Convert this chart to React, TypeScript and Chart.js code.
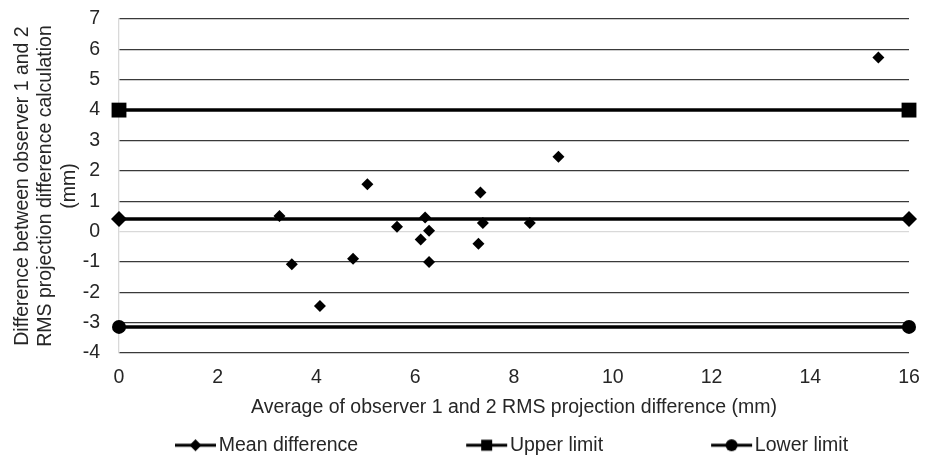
import React, { useEffect, useRef } from 'react';
import { Chart, registerables } from 'chart.js';

Chart.register(...registerables);

// Bland-Altman data
const avgValues = [3.25, 3.5, 4.07, 4.74, 5.03, 5.63, 6.2, 6.11, 6.28, 6.28, 7.32, 7.37, 7.28, 8.32, 8.9, 15.38];
const diffValues = [0.51, -1.08, -2.45, -0.9, 1.56, 0.16, 0.46, -0.26, 0.03, -1.0, 1.29, 0.28, -0.4, 0.28, 2.46, 5.73];
const lineX = [0, 16];
const meanDiff = [0.415, 0.415];
const upperLimit = [4.0, 4.0];
const lowerLimit = [-3.14, -3.14];
const xTicks = [0, 2, 4, 6, 8, 10, 12, 14, 16];
const yTicks = [-4, -3, -2, -1, 0, 1, 2, 3, 4, 5, 6, 7];
const legendLabels = ['Mean difference', 'Upper limit', 'Lower limit'];
const xTitle = 'Average of observer 1 and 2 RMS projection difference (mm)';
const yTitle = ['Difference between observer 1 and 2', 'RMS projection difference calculation', '(mm)'];

const FONT = "'Liberation Sans', Arial, sans-serif";
const FS = 19.5;
const TEXT = '#262626';

function makeLegendGlyph(style: string, boxW: number): HTMLCanvasElement {
  const w = boxW + 16;
  const h = 16;
  const c = document.createElement('canvas');
  c.width = w;
  c.height = h;
  const ctx = c.getContext('2d')!;
  const x2 = w - 1;
  const x1 = x2 - 41;
  const cy = h / 2;
  ctx.strokeStyle = '#000';
  ctx.fillStyle = '#000';
  ctx.lineWidth = 3.2;
  ctx.beginPath();
  ctx.moveTo(x1, cy);
  ctx.lineTo(x2, cy);
  ctx.stroke();
  const cx = (x1 + x2) / 2;
  ctx.beginPath();
  if (style === 'rectRot') {
    const r = 6;
    ctx.moveTo(cx, cy - r);
    ctx.lineTo(cx + r, cy);
    ctx.lineTo(cx, cy + r);
    ctx.lineTo(cx - r, cy);
    ctx.closePath();
  } else if (style === 'rect') {
    ctx.rect(cx - 5.5, cy - 5.5, 11, 11);
  } else {
    ctx.arc(cx, cy, 6, 0, Math.PI * 2);
  }
  ctx.fill();
  return c;
}

export default function App() {
  const ref = useRef<HTMLCanvasElement>(null);

  useEffect(() => {
    document.body.style.margin = '0';
    const canvas = ref.current!;
    const boxW = 132;
    const glyphs = [makeLegendGlyph('rectRot', boxW), makeLegendGlyph('rect', boxW), makeLegendGlyph('circle', boxW)];

    const chart = new Chart(canvas, {
      type: 'scatter',
      data: {
        datasets: [
          {
            label: legendLabels[0],
            data: lineX.map((x, i) => ({ x, y: meanDiff[i] })),
            showLine: true,
            borderColor: '#000',
            backgroundColor: '#000',
            borderWidth: 3.5,
            pointStyle: 'rectRot',
            pointRadius: 8,
            pointBorderWidth: 0,
            clip: false,
            order: 2,
          },
          {
            label: legendLabels[1],
            data: lineX.map((x, i) => ({ x, y: upperLimit[i] })),
            showLine: true,
            borderColor: '#000',
            backgroundColor: '#000',
            borderWidth: 3.5,
            pointStyle: 'rect',
            pointRadius: 10.5,
            pointBorderWidth: 0,
            clip: false,
            order: 2,
          },
          {
            label: legendLabels[2],
            data: lineX.map((x, i) => ({ x, y: lowerLimit[i] })),
            showLine: true,
            borderColor: '#000',
            backgroundColor: '#000',
            borderWidth: 3.5,
            pointStyle: 'circle',
            pointRadius: 7,
            pointBorderWidth: 0,
            clip: false,
            order: 2,
          },
          {
            label: 'Difference',
            data: avgValues.map((x, i) => ({ x, y: diffValues[i] })),
            showLine: false,
            borderColor: '#000',
            backgroundColor: '#000',
            pointStyle: 'rectRot',
            pointRadius: 6,
            pointBorderWidth: 0,
            clip: false,
            order: 1,
          },
        ],
      },
      options: {
        responsive: false,
        animation: false,
        layout: { padding: { left: 8, right: 18, top: 0, bottom: -10 } },
        scales: {
          x: {
            type: 'linear',
            min: 0,
            max: 16,
            afterBuildTicks: (s: any) => {
              s.ticks = xTicks.map((v) => ({ value: v }));
            },
            afterFit: (s: any) => {
              s.height = 72.5;
              s.paddingRight = 26;
            },
            grid: { display: false, drawTicks: false },
            border: { display: false },
            ticks: { color: TEXT, font: { family: FONT, size: FS }, padding: 12.5, maxRotation: 0 },
            title: {
              display: true,
              text: xTitle,
              color: TEXT,
              font: { family: FONT, size: FS },
              padding: { top: 7, bottom: 6 },
            },
          },
          y: {
            type: 'linear',
            min: -4,
            max: 7,
            afterBuildTicks: (s: any) => {
              s.ticks = yTicks.map((v) => ({ value: v }));
            },
            afterFit: (s: any) => {
              s.width = 111;
              s.paddingTop = 19;
            },
            grid: {
              drawTicks: false,
              color: (c: any) => (c.tick && c.tick.value === 0 ? '#d9d9d9' : '#3a3a3a'),
              lineWidth: 1.3,
            },
            border: { display: true, color: '#d9d9d9', width: 1.3 },
            ticks: { color: TEXT, font: { family: FONT, size: FS }, padding: 19 },
            title: {
              display: true,
              text: yTitle,
              color: TEXT,
              font: { family: FONT, size: FS },
              padding: { top: 3, bottom: 0 },
            },
          },
        },
        plugins: {
          tooltip: { enabled: false },
          legend: {
            position: 'bottom',
            labels: {
              usePointStyle: true,
              pointStyleWidth: boxW,
              boxHeight: FS,
              padding: 10,
              color: TEXT,
              font: { family: FONT, size: FS },
              generateLabels: () =>
                legendLabels.map((t, i) => ({
                  text: t,
                  pointStyle: glyphs[i] as any,
                  fillStyle: '#000',
                  strokeStyle: '#000',
                  lineWidth: 0,
                  hidden: false,
                  datasetIndex: i,
                  fontColor: TEXT,
                })),
            },
          },
        },
      },
    });
    return () => chart.destroy();
  }, []);

  return <canvas ref={ref} width={935} height={455} style={{ display: 'block', width: 935, height: 455 }} />;
}
